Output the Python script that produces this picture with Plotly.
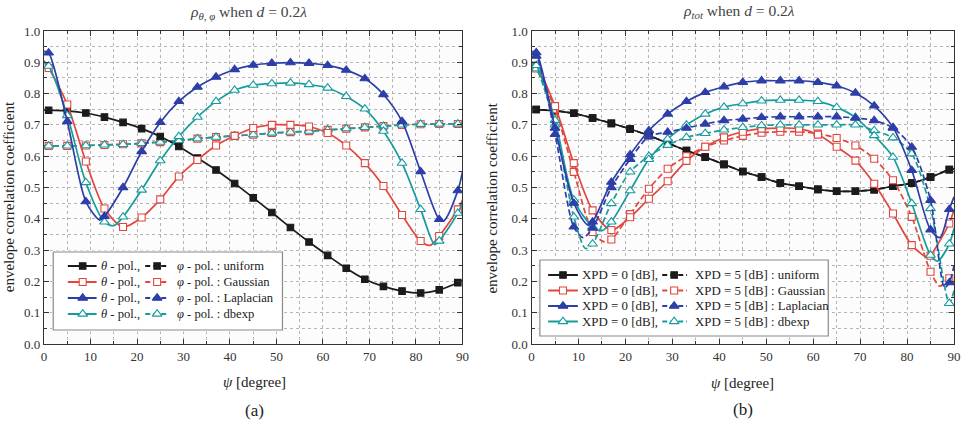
import plotly.graph_objects as go

# ---------------- data ----------------
PSI = [1, 5, 9, 13, 17, 21, 25, 29, 33, 37, 41, 45, 49, 53, 57, 61, 65, 69, 73, 77, 81, 85, 89]

# panel (a): rho_theta,phi ; theta-pol (solid) and phi-pol (dashed)
A_UNI = [0.747, 0.745, 0.738, 0.725, 0.708, 0.688, 0.663, 0.631, 0.594, 0.556, 0.513, 0.467,
         0.420, 0.372, 0.326, 0.283, 0.242, 0.207, 0.184, 0.169, 0.163, 0.173, 0.196]
A_UNI_KX, A_UNI_KY = [0, 90], [0.748, 0.203]
A_GAU = [0.882, 0.765, 0.583, 0.433, 0.374, 0.404, 0.462, 0.535, 0.588, 0.634, 0.665, 0.690,
         0.700, 0.700, 0.695, 0.674, 0.634, 0.578, 0.505, 0.412, 0.329, 0.345, 0.430]
A_GAU_KX, A_GAU_KY = [0, 83, 90], [0.905, 0.315, 0.46]
A_LAP = [0.930, 0.711, 0.455, 0.408, 0.500, 0.615, 0.708, 0.775, 0.821, 0.853, 0.877, 0.891,
         0.897, 0.899, 0.897, 0.890, 0.875, 0.848, 0.797, 0.711, 0.551, 0.398, 0.490]
A_LAP_KX, A_LAP_KY = [0, 12, 86, 90], [0.935, 0.396, 0.394, 0.55]
A_DBE = [0.888, 0.730, 0.516, 0.390, 0.406, 0.492, 0.586, 0.663, 0.725, 0.775, 0.811, 0.827,
         0.832, 0.834, 0.829, 0.818, 0.791, 0.751, 0.680, 0.578, 0.430, 0.329, 0.418]
A_DBE_KX, A_DBE_KY = [0, 15, 84, 90], [0.90, 0.378, 0.318, 0.45]
A_PHI = [0.633, 0.633, 0.634, 0.636, 0.638, 0.641, 0.645, 0.650, 0.656, 0.661, 0.665, 0.669,
         0.674, 0.677, 0.680, 0.684, 0.688, 0.692, 0.696, 0.700, 0.702, 0.703, 0.703]
A_PHI_KX, A_PHI_KY = [0, 90], [0.633, 0.703]

# panel (b): rho_tot ; XPD = 0 dB (solid) and XPD = 5 dB (dashed)
B_UNI0 = [0.749, 0.745, 0.737, 0.722, 0.705, 0.687, 0.666, 0.642, 0.618, 0.597, 0.574, 0.551,
          0.533, 0.514, 0.504, 0.494, 0.488, 0.488, 0.493, 0.504, 0.514, 0.533, 0.557]
B_UNI0_KX, B_UNI0_KY = [0, 90], [0.75, 0.56]
B_UNI5 = [0.749, 0.745, 0.737, 0.722, 0.705, 0.687, 0.666, 0.642, 0.618, 0.597, 0.574, 0.551,
          0.533, 0.514, 0.504, 0.494, 0.488, 0.488, 0.493, 0.504, 0.514, 0.533, 0.557]
B_UNI5_KX, B_UNI5_KY = [0, 90], [0.75, 0.56]
B_GAU0 = [0.890, 0.760, 0.578, 0.427, 0.364, 0.405, 0.464, 0.520, 0.585, 0.630, 0.660, 0.678,
          0.688, 0.690, 0.688, 0.669, 0.630, 0.586, 0.512, 0.417, 0.316, 0.282, 0.385]
B_GAU0_KX, B_GAU0_KY = [0, 84.5, 90], [0.90, 0.275, 0.43]
B_GAU5 = [0.880, 0.750, 0.550, 0.358, 0.334, 0.415, 0.496, 0.560, 0.600, 0.630, 0.650, 0.665,
          0.675, 0.678, 0.678, 0.672, 0.658, 0.634, 0.592, 0.523, 0.406, 0.231, 0.210]
B_GAU5_KX, B_GAU5_KY = [0, 15.5, 87, 90], [0.89, 0.326, 0.185, 0.19]
B_LAP0 = [0.931, 0.690, 0.450, 0.390, 0.517, 0.605, 0.682, 0.735, 0.775, 0.804, 0.822, 0.836,
          0.841, 0.841, 0.841, 0.836, 0.825, 0.802, 0.761, 0.692, 0.555, 0.365, 0.430]
B_LAP0_KX, B_LAP0_KY = [0, 12, 87, 90], [0.935, 0.38, 0.34, 0.47]
B_LAP5 = [0.920, 0.670, 0.374, 0.370, 0.500, 0.590, 0.663, 0.677, 0.690, 0.703, 0.714, 0.719,
          0.724, 0.726, 0.726, 0.726, 0.726, 0.722, 0.714, 0.690, 0.629, 0.459, 0.196]
B_LAP5_KX, B_LAP5_KY = [0, 11, 88, 90], [0.925, 0.34, 0.18, 0.25]
B_DBE0 = [0.890, 0.715, 0.460, 0.375, 0.390, 0.490, 0.590, 0.655, 0.700, 0.735, 0.757, 0.768,
          0.777, 0.779, 0.779, 0.775, 0.756, 0.724, 0.666, 0.597, 0.449, 0.284, 0.320]
B_DBE0_KX, B_DBE0_KY = [0, 15, 86.5, 90], [0.90, 0.362, 0.265, 0.37]
B_DBE5 = [0.880, 0.700, 0.406, 0.320, 0.449, 0.550, 0.600, 0.635, 0.660, 0.673, 0.684, 0.692,
          0.698, 0.700, 0.700, 0.700, 0.700, 0.700, 0.682, 0.659, 0.608, 0.433, 0.130]
B_DBE5_KX, B_DBE5_KY = [0, 11.5, 90], [0.89, 0.305, 0.17]

DISTS = ["uniform", "Gaussian", "Laplacian", "dbexp"]
X_TICKS = list(range(0, 91, 10))
Y_TICKS = [round(0.1 * i, 1) for i in range(11)]

# ---------------- style ----------------
W, H = 972, 424
ML, MR, MT, MB = 44, 11, 31, 80
PW, PH = W - ML - MR, H - MT - MB
SERIF = "Liberation Serif, Times New Roman, Tinos, DejaVu Serif, serif"
BLACK, RED, BLUE, TEAL = "#1b1b1b", "#e2463f", "#2d3ea8", "#179c9c"
STY = {  # color, symbol, filled, size
    "uniform": (BLACK, "square", True, 6.5),
    "Gaussian": (RED, "square", False, 7),
    "Laplacian": (BLUE, "triangle-up", True, 8.5),
    "dbexp": (TEAL, "triangle-up", False, 8.5),
}


def fx(px):
    return (px - ML) / PW


def fy(py):
    return (H - MB - py) / PH


fig = go.Figure()


def add_series(vals, kx, ky, dist, dashed, xa, ya):
    col, sym, filled, size = STY[dist]
    pts = sorted(list(zip(PSI, vals)) + list(zip(kx, ky)))
    fig.add_trace(go.Scatter(
        x=[p[0] for p in pts], y=[p[1] for p in pts], mode="lines",
        line=dict(color=col, width=1.7, shape="spline", smoothing=0.8,
                  dash="6px,3px" if dashed else "solid"),
        xaxis=xa, yaxis=ya, showlegend=False, hoverinfo="skip"))
    fig.add_trace(go.Scatter(
        x=PSI, y=vals, mode="markers",
        marker=dict(symbol=sym, size=size, color=col if filled else "white",
                    line=dict(color=col, width=1.1)),
        xaxis=xa, yaxis=ya, showlegend=False))


# panel (a)
add_series(A_PHI, A_PHI_KX, A_PHI_KY, "Gaussian", True, "x", "y")
add_series(A_PHI, A_PHI_KX, A_PHI_KY, "dbexp", True, "x", "y")
add_series(A_UNI, A_UNI_KX, A_UNI_KY, "uniform", False, "x", "y")
add_series(A_GAU, A_GAU_KX, A_GAU_KY, "Gaussian", False, "x", "y")
add_series(A_DBE, A_DBE_KX, A_DBE_KY, "dbexp", False, "x", "y")
add_series(A_LAP, A_LAP_KX, A_LAP_KY, "Laplacian", False, "x", "y")

# panel (b)
add_series(B_UNI5, B_UNI5_KX, B_UNI5_KY, "uniform", True, "x2", "y2")
add_series(B_UNI0, B_UNI0_KX, B_UNI0_KY, "uniform", False, "x2", "y2")
add_series(B_GAU5, B_GAU5_KX, B_GAU5_KY, "Gaussian", True, "x2", "y2")
add_series(B_GAU0, B_GAU0_KX, B_GAU0_KY, "Gaussian", False, "x2", "y2")
add_series(B_DBE5, B_DBE5_KX, B_DBE5_KY, "dbexp", True, "x2", "y2")
add_series(B_DBE0, B_DBE0_KX, B_DBE0_KY, "dbexp", False, "x2", "y2")
add_series(B_LAP5, B_LAP5_KX, B_LAP5_KY, "Laplacian", True, "x2", "y2")
add_series(B_LAP0, B_LAP0_KX, B_LAP0_KY, "Laplacian", False, "x2", "y2")

annotations = []


# ---------------- custom two-column legends ----------------
def legend(xa, ya, box, rows_y, solid_seg, dash_seg, t1x, t2x, lab1, lab2, fsize):
    x0, y0, x1, y1 = box
    fig.add_trace(go.Scatter(x=[x0, x1, x1, x0, x0], y=[y0, y0, y1, y1, y0], mode="lines",
                             fill="toself", fillcolor="white",
                             line=dict(color="#8a8a8a", width=1.2),
                             xaxis=xa, yaxis=ya, showlegend=False, hoverinfo="skip"))
    for ry, dist in zip(rows_y, DISTS):
        col, sym, filled, size = STY[dist]
        for (sa, sb, sm), dash in ((solid_seg, "solid"), (dash_seg, "5px,3px")):
            fig.add_trace(go.Scatter(x=[sa, sb], y=[ry, ry], mode="lines",
                                     line=dict(color=col, width=1.9, dash=dash),
                                     xaxis=xa, yaxis=ya, showlegend=False, hoverinfo="skip"))
            fig.add_trace(go.Scatter(x=[sm], y=[ry], mode="markers",
                                     marker=dict(symbol=sym, size=size,
                                                 color=col if filled else "white",
                                                 line=dict(color=col, width=1.1)),
                                     xaxis=xa, yaxis=ya, showlegend=False, hoverinfo="skip"))
        annotations.append(dict(x=fx(t1x), y=fy(ry), xref="paper", yref="paper", text=lab1,
                                showarrow=False, xanchor="left", yanchor="middle",
                                font=dict(family=SERIF, size=fsize, color="#222")))
        annotations.append(dict(x=fx(t2x), y=fy(ry), xref="paper", yref="paper",
                                text=lab2 + " : " + dist, showarrow=False, xanchor="left",
                                yanchor="middle", font=dict(family=SERIF, size=fsize, color="#222")))


legend("x3", "y3", (53.3, 252, 284.3, 330), [266, 282, 298, 314],
       (68, 97, 83), (146, 170, 158), 99, 176,
       "<i>θ</i> - pol.,", "<i>φ</i> - pol.", 12.6)
legend("x4", "y4", (543.7, 260, 834.3, 336), [275, 290.5, 306, 321.5],
       (552, 582, 567), (667, 692, 679), 584, 698,
       "XPD = 0 [dB],", "XPD = 5 [dB]", 12.9)

# ---------------- axes ----------------
def axis_common(**kw):
    d = dict(showline=True, linecolor="#333", linewidth=1.2, mirror="ticks",
             ticks="inside", ticklen=5, tickcolor="#333", tickwidth=1,
             showgrid=True, griddash="dot", gridcolor="#b5b5b5", gridwidth=1,
             zeroline=False, tickfont=dict(family=SERIF, size=13, color="#333"))
    d.update(kw)
    return d


xa_kw = dict(range=[0, 90], tickvals=X_TICKS,
             minor=dict(dtick=5, ticks="inside", ticklen=3, tickcolor="#333",
                        showgrid=True, griddash="dot", gridcolor="#b5b5b5"))
ya_kw = dict(range=[0, 1.0], tickvals=Y_TICKS, tickformat=".1f",
             minor=dict(dtick=0.05, ticks="inside", ticklen=3, tickcolor="#333",
                        showgrid=True, griddash="dot", gridcolor="#b5b5b5"))

fig.update_layout(
    width=W, height=H, margin=dict(l=ML, r=MR, t=MT, b=MB),
    paper_bgcolor="white", plot_bgcolor="#fcfcfc",
    font=dict(family=SERIF),
    xaxis=axis_common(domain=[0, fx(465.7)], anchor="y", **xa_kw),
    yaxis=axis_common(domain=[0, 1], anchor="x", **ya_kw),
    xaxis2=axis_common(domain=[fx(535.3), 1], anchor="y2", **xa_kw),
    yaxis2=axis_common(domain=[0, 1], anchor="x2", **ya_kw),
    xaxis3=dict(domain=[fx(52), fx(286)], range=[52, 286], visible=False, anchor="y3"),
    yaxis3=dict(domain=[fy(331.5), fy(250.5)], range=[331.5, 250.5], visible=False, anchor="x3"),
    xaxis4=dict(domain=[fx(542.5), fx(835.5)], range=[542.5, 835.5], visible=False, anchor="y4"),
    yaxis4=dict(domain=[fy(337.5), fy(258.5)], range=[337.5, 258.5], visible=False, anchor="x4"),
    showlegend=False,
)

TXT = dict(family=SERIF, color="#222")
annotations += [
    dict(x=fx(250), y=fy(13), text="<i>ρ</i><sub><i>θ, φ</i></sub> when <i>d</i> = 0.2<i>λ</i>",
         font=dict(family=SERIF, size=15.5, color="#444")),
    dict(x=fx(744), y=fy(12), text="<i>ρ</i><sub><i>tot</i></sub> when <i>d</i> = 0.2<i>λ</i>",
         font=dict(family=SERIF, size=15.5, color="#444")),
    dict(x=fx(256), y=fy(382), text="<i>ψ</i> [degree]", font=dict(size=15, **TXT)),
    dict(x=fx(748), y=fy(383), text="<i>ψ</i> [degree]", font=dict(size=15, **TXT)),
    dict(x=fx(256), y=fy(410), text="(a)", font=dict(size=17, **TXT)),
    dict(x=fx(748), y=fy(409), text="(b)", font=dict(size=17, **TXT)),
    dict(x=fx(9), y=fy(197), text="envelope correlation coefficient", textangle=-90,
         font=dict(size=15, **TXT)),
    dict(x=fx(495), y=fy(198), text="envelope correlation coefficient", textangle=-90,
         font=dict(size=15, **TXT)),
]
for a in annotations:
    a.setdefault("xref", "paper")
    a.setdefault("yref", "paper")
    a.setdefault("showarrow", False)
    a.setdefault("xanchor", "center")
    a.setdefault("yanchor", "middle")
fig.update_layout(annotations=annotations)

fig.write_html("out.html")
